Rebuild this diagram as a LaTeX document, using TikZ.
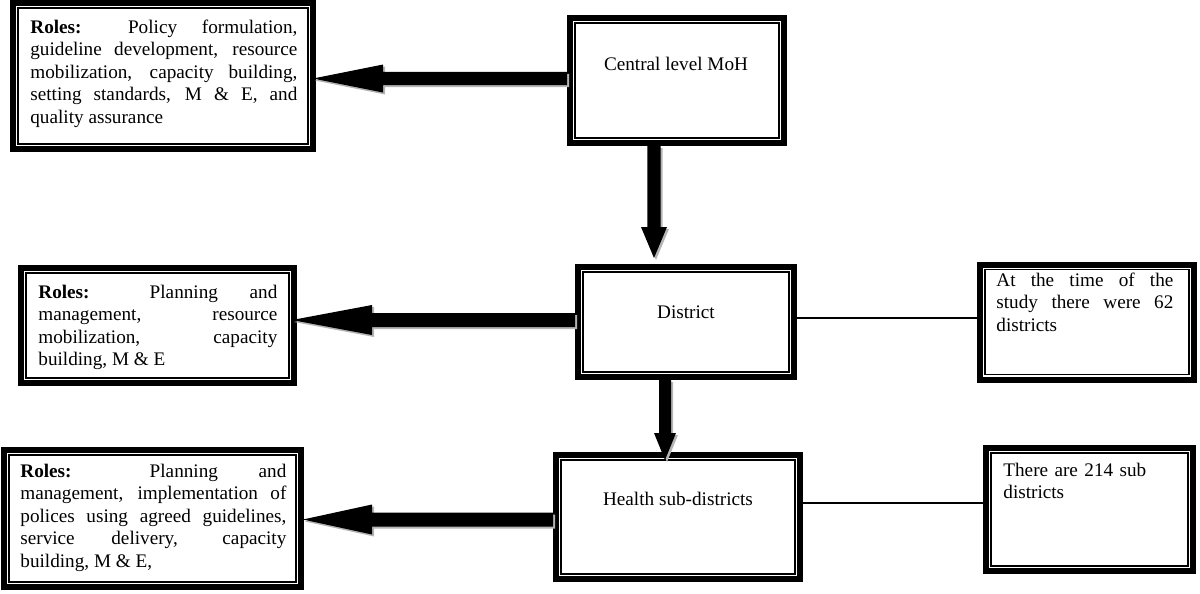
\documentclass[tikz,border=0pt]{standalone}
\usepackage{fontspec}
\setmainfont{Liberation Serif}
\usetikzlibrary{calc}
\definecolor{shadowgray}{HTML}{B4B4B4}
\tolerance=10000
\hbadness=10000
\newcommand{\hblock}[5]{%
  \foreach \dx/\dy/\col in {1pt/-1pt/shadowgray,0pt/0pt/black}{%
    \fill[\col] let \p1=#1, \p2=#2 in
      (\x2+\dx,\y2+\dy) -- (\x2+#3+\dx,\y2+#4+\dy) -- (\x2+#3+\dx,\y2+#5+\dy)
      -- (\x1+\dx,\y2+#5+\dy) -- (\x1+\dx,\y2-#5+\dy) -- (\x2+#3+\dx,\y2-#5+\dy)
      -- (\x2+#3+\dx,\y2-#4+\dy) -- cycle;
  }}
\newcommand{\vblock}[5]{%
  \foreach \dx/\dy/\col in {1pt/-1pt/shadowgray,0pt/0pt/black}{%
    \fill[\col] let \p1=#1, \p2=#2 in
      (\x2+\dx,\y2+\dy) -- (\x2-#4+\dx,\y2+#3+\dy) -- (\x2-#5+\dx,\y2+#3+\dy)
      -- (\x2-#5+\dx,\y1+\dy) -- (\x2+#5+\dx,\y1+\dy) -- (\x2+#5+\dx,\y2+#3+\dy)
      -- (\x2+#4+\dx,\y2+#3+\dy) -- cycle;
  }}
\begin{document}
\begin{tikzpicture}[x=0.5pt,y=-0.5pt,
  box/.style={draw, line width=3pt, inner sep=0pt, fill=white},
  txt/.style={inner sep=0pt, font=\fontsize{9.6pt}{11.25pt}\selectfont},
  jtxt/.style={txt, align=justify, anchor=base west},
  link/.style={line width=0.6pt}]
\useasboundingbox (0,0) rectangle (1200,594);
% boxes
\node[box, minimum width=150pt, minimum height=73pt] (A) at (163,76) {};
\node[box, minimum width=107pt, minimum height=62.5pt] (B) at (677,80.5) {};
\node[box, minimum width=108pt, minimum height=55pt] (C) at (686,322) {};
\node[box, minimum width=136.5pt, minimum height=57.5pt] (D) at (157.5,325.5) {};
\node[box, minimum width=107pt, minimum height=57.5pt] (E) at (1087,322) {};
\node[box, minimum width=122pt, minimum height=62pt] (F) at (678,517) {};
\node[box, minimum width=148.5pt, minimum height=68.5pt] (G) at (152.5,518.5) {};
\node[box, minimum width=103.5pt, minimum height=61.5pt] (H) at (1089.5,509.5) {};
\foreach \n in {A,B,C,D,E,F,G,H}
  \draw[line width=0.8pt] ([shift={(4pt,-4pt)}]\n.north west) rectangle ([shift={(-4pt,4pt)}]\n.south east);
% connector lines
\draw[link] ([yshift=2pt]C.east) -- ([yshift=2pt]C.east -| E.west);
\draw[link] ([yshift=7pt]F.east) -- ([yshift=7pt]F.east -| H.west);
% block arrows
\hblock{(B.west)}{([shift={(-1.5pt,-1.25pt)}]A.east)}{35pt}{7pt}{3.3pt}
\hblock{(C.west)}{([shift={(-2.5pt,2.75pt)}]D.east)}{40pt}{7.5pt}{3.5pt}
\hblock{(F.west)}{([shift={(-0.5pt,-0.5pt)}]G.east)}{34.5pt}{7.5pt}{3.5pt}
\vblock{(B.south)}{([shift={(-16pt,3pt)}]C.north)}{15.5pt}{6.5pt}{3.3pt}
\vblock{(C.south)}{([shift={(-6.5pt,-4pt)}]F.north)}{13.5pt}{5.5pt}{3pt}
% texts
\node[jtxt, text width=133.5pt] (At) at (30,33) {\textbf{Roles:} Policy formulation,\linebreak guideline development, resource\linebreak mobilization, capacity building,\linebreak setting standards, M \& E, and\linebreak quality assurance};
\node[txt, anchor=base] (Bt) at (676,70) {Central level MoH};
\node[txt, anchor=base] (Ct) at (686,318) {District};
\node[jtxt, text width=119.5pt] (Dt) at (38,298) {\textbf{Roles:} Planning and\linebreak management, resource\linebreak mobilization, capacity\linebreak building, M \& E};
\node[jtxt, text width=88.5pt] (Et) at (996,286) {At the time of the\linebreak study there were 62\linebreak districts};
\node[txt, anchor=base] (Ft) at (678,505) {Health sub-districts};
\node[jtxt, text width=133pt] (Gt) at (20,477) {\textbf{Roles:} Planning and\linebreak management, implementation of\linebreak polices using agreed guidelines,\linebreak service delivery, capacity\linebreak building, M \& E,};
\node[txt, text width=90pt, align=left, anchor=base west] (Ht) at (1003,476) {There are 214 sub\\districts};
\end{tikzpicture}
\end{document}
